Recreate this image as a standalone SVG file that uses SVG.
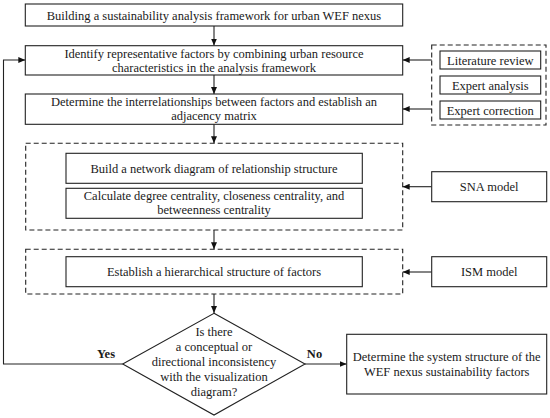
<svg xmlns="http://www.w3.org/2000/svg" width="550" height="418" viewBox="0 0 550 418">
<style>
.box{fill:#fff;stroke:#222;stroke-width:1.1}
.dash{fill:none;stroke:#222;stroke-width:1.1;stroke-dasharray:5,3}
.ln{fill:none;stroke:#222;stroke-width:1.1}
text{font-family:"Liberation Serif","Times New Roman",serif;font-size:12.5px;fill:#1a1a1a;text-anchor:middle}
.b{font-weight:bold}
</style>
<defs>
<marker id="ah" markerWidth="8" markerHeight="6" refX="7" refY="3" orient="auto" markerUnits="userSpaceOnUse">
<path d="M0,0 L7,3 L0,6 Z" fill="#111"/>
</marker>
</defs>
<rect width="550" height="418" fill="#fff"/>
<g id="connectors">
<line class="ln" x1="214" y1="26" x2="214" y2="45.5" marker-end="url(#ah)"/>
<line class="ln" x1="214" y1="75" x2="214" y2="94" marker-end="url(#ah)"/>
<line class="ln" x1="214" y1="124" x2="214" y2="143.3" marker-end="url(#ah)"/>
<line class="ln" x1="214" y1="230" x2="214" y2="249.3" marker-end="url(#ah)"/>
<line class="ln" x1="214" y1="294" x2="214" y2="313" marker-end="url(#ah)"/>
<line class="ln" x1="431.7" y1="60" x2="402.7" y2="60" marker-end="url(#ah)"/>
<line class="ln" x1="431.7" y1="109" x2="402.7" y2="109" marker-end="url(#ah)"/>
<line class="ln" x1="431.7" y1="186.7" x2="402.7" y2="186.7" marker-end="url(#ah)"/>
<line class="ln" x1="431.7" y1="272" x2="402.7" y2="272" marker-end="url(#ah)"/>
<line class="ln" x1="305" y1="364" x2="346.7" y2="364" marker-end="url(#ah)"/>
<polyline class="ln" points="122.7,364 3.5,364 3.5,60 25.3,60" marker-end="url(#ah)"/>
<text class="b" x="106" y="358">Yes</text>
<text class="b" x="314.5" y="358">No</text>
</g>
<g id="n1">
<rect class="box" x="25.3" y="4" width="377.4" height="22"/>
<text x="214" y="19.5">Building a sustainability analysis framework for urban WEF nexus</text>
</g>
<g id="n2">
<rect class="box" x="25.3" y="45.7" width="377.4" height="29.3"/>
<text x="214" y="57.5">Identify representative factors by combining urban resource</text>
<text x="214" y="71.5">characteristics in the analysis framework</text>
</g>
<g id="n3">
<rect class="box" x="25.3" y="94" width="377.4" height="30.3"/>
<text x="214" y="106">Determine the interrelationships between factors and establish an</text>
<text x="214" y="120">adjacency matrix</text>
</g>
<g id="sources">
<rect class="dash" x="431.7" y="45" width="114.3" height="80"/>
<g id="n-lit">
<rect class="box" x="440" y="51" width="100.7" height="18"/>
<text x="490.3" y="64.5">Literature review</text>
</g>
<g id="n-ea">
<rect class="box" x="440" y="76" width="100.7" height="18"/>
<text x="490.3" y="89.5">Expert analysis</text>
</g>
<g id="n-ec">
<rect class="box" x="440" y="101" width="100.7" height="18"/>
<text x="490.3" y="114.5">Expert correction</text>
</g>
</g>
<g id="sna-group">
<rect class="dash" x="25.7" y="143.3" width="377" height="86.7"/>
<g id="n4">
<rect class="box" x="66" y="153.3" width="296.3" height="30"/>
<text x="214" y="172.5">Build a network diagram of relationship structure</text>
</g>
<g id="n5">
<rect class="box" x="66" y="188.3" width="296.3" height="30"/>
<text x="214" y="199.5">Calculate degree centrality, closeness centrality, and</text>
<text x="214" y="213.5">betweenness centrality</text>
</g>
</g>
<g id="n-sna">
<rect class="box" x="431.7" y="171.7" width="115" height="30"/>
<text x="489.2" y="191">SNA model</text>
</g>
<g id="ism-group">
<rect class="dash" x="25.7" y="249.3" width="377" height="44.7"/>
<g id="n6">
<rect class="box" x="66" y="256.7" width="296.3" height="30"/>
<text x="214" y="276">Establish a hierarchical structure of factors</text>
</g>
</g>
<g id="n-ism">
<rect class="box" x="431.7" y="256.7" width="115" height="30"/>
<text x="489.2" y="276">ISM model</text>
</g>
<g id="decision">
<polygon class="box" points="214,313.3 305,364 214,415 122.7,364"/>
<text x="214" y="336">Is there</text>
<text x="214" y="351">a conceptual or</text>
<text x="214" y="366">directional inconsistency</text>
<text x="214" y="381">with the visualization</text>
<text x="214" y="396">diagram?</text>
</g>
<g id="n-final">
<rect class="box" x="346.7" y="334.3" width="200" height="59.7"/>
<text x="446.7" y="361">Determine the system structure of the</text>
<text x="446.7" y="375.5">WEF nexus sustainability factors</text>
</g>
</svg>
